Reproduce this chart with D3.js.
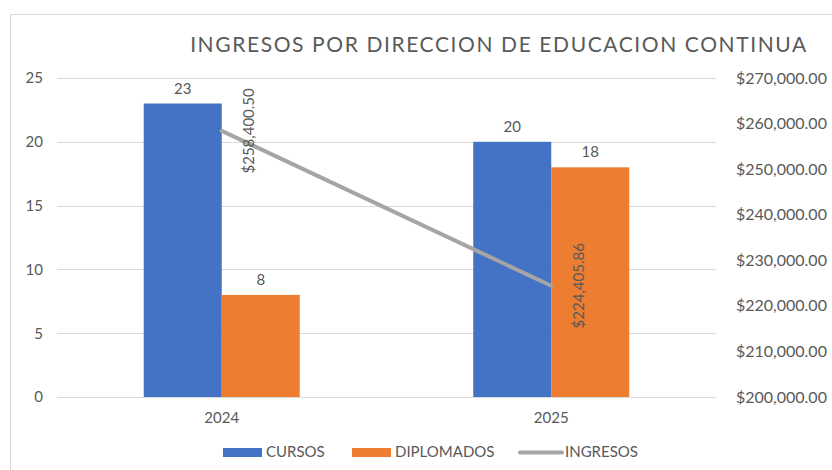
<!DOCTYPE html>
<html>
<head>
<meta charset="UTF-8">
<title>Ingresos por Direccion de Educacion Continua</title>
<script src="https://cdn.jsdelivr.net/npm/d3@7"></script>
<style>
  body { margin: 0; background: #ffffff; }
  text { font-family: Lato, "Open Sans", sans-serif; fill: #595959; }
</style>
</head>
<body>
<script>
// data
var years = ["2024", "2025"];
var cursos = [23, 20];
var diplomados = [8, 18];
var ingresos = [258400.50, 224405.86];
var leftTicks = [0, 5, 10, 15, 20, 25];
var rightTicks = [200000, 210000, 220000, 230000, 240000, 250000, 260000, 270000];

var W = 832, H = 470;
var m = {left: 57, right: 116, top: 78, bottom: 73};

var svg = d3.select("body").append("svg")
    .attr("width", W).attr("height", H);

// chart frame
svg.append("rect")
    .attr("x", 10.5).attr("y", 14.5)
    .attr("width", W + 20).attr("height", H + 20)
    .attr("fill", "none").attr("stroke", "#d9d9d9");

var x = d3.scaleBand().domain(years).range([m.left, W - m.right]).paddingInner(0).paddingOuter(0);
var yL = d3.scaleLinear().domain([0, 25]).range([H - m.bottom, m.top]);
var yR = d3.scaleLinear().domain([200000, 270000]).range([H - m.bottom, m.top]);

var barW = 78;

// gridlines
svg.append("g").selectAll("line").data(leftTicks).enter().append("line")
    .attr("x1", m.left).attr("x2", W - m.right)
    .attr("y1", function (d) { return Math.round(yL(d)) + 0.5; })
    .attr("y2", function (d) { return Math.round(yL(d)) + 0.5; })
    .attr("stroke", "#d9d9d9").attr("stroke-width", 1);

// left axis
var axL = svg.append("g").attr("transform", "translate(" + (m.left - 14) + ",0)")
    .call(d3.axisLeft(yL).tickValues(leftTicks).tickSize(0).tickPadding(0));
axL.select(".domain").remove();
axL.selectAll("text").style("font-size", "15px").attr("fill", "#595959");

// right axis
var fmt = d3.format("$,.2f");
var axR = svg.append("g").attr("transform", "translate(" + (W - m.right + 20) + ",0)")
    .call(d3.axisRight(yR).tickValues(rightTicks).tickSize(0).tickPadding(0).tickFormat(fmt));
axR.select(".domain").remove();
axR.selectAll("text").style("font-size", "16px").attr("fill", "#595959");

// x axis labels
svg.append("g").selectAll("text").data(years).enter().append("text")
    .attr("x", function (d) { return x(d) + x.bandwidth() / 2; })
    .attr("y", H - m.bottom + 26)
    .attr("text-anchor", "middle").style("font-size", "15px")
    .text(function (d) { return d; });

// bars
var series = [
    {name: "CURSOS", values: cursos, color: "#4472c4", off: -barW},
    {name: "DIPLOMADOS", values: diplomados, color: "#ed7d31", off: 0}
];
series.forEach(function (s) {
    var g = svg.append("g");
    g.selectAll("rect").data(s.values).enter().append("rect")
        .attr("x", function (d, i) { return x(years[i]) + x.bandwidth() / 2 + s.off; })
        .attr("y", function (d) { return yL(d); })
        .attr("width", barW)
        .attr("height", function (d) { return yL(0) - yL(d); })
        .attr("fill", s.color);
    g.selectAll("text").data(s.values).enter().append("text")
        .attr("x", function (d, i) { return x(years[i]) + x.bandwidth() / 2 + s.off + barW / 2; })
        .attr("y", function (d) { return yL(d) - 10; })
        .attr("text-anchor", "middle").style("font-size", "15px").attr("fill", "#404040")
        .text(function (d) { return d; });
});

// ingresos line
var cx = function (d, i) { return x(years[i]) + x.bandwidth() / 2; };
svg.append("path").datum(ingresos)
    .attr("d", d3.line().x(cx).y(function (d) { return yR(d); }))
    .attr("fill", "none").attr("stroke", "#a5a5a5").attr("stroke-width", 4)
    .attr("stroke-linecap", "round");

svg.append("g").selectAll("text").data(ingresos).enter().append("text")
    .attr("transform", function (d, i) {
        return "translate(" + (cx(d, i) + 27) + "," + yR(d) + ") rotate(-90)";
    })
    .attr("text-anchor", "middle").attr("dy", "0.35em")
    .style("font-size", "15px").attr("fill", "#404040")
    .text(function (d) { return fmt(d); });

// title
svg.append("text")
    .attr("x", 499).attr("y", 52)
    .attr("text-anchor", "middle").style("font-size", "21px")
    .style("letter-spacing", "1.6px").attr("fill", "#595959")
    .text("INGRESOS POR DIRECCION DE EDUCACION CONTINUA");

// legend
var legend = [
    {name: "CURSOS", color: "#4472c4", type: "rect", x: 223},
    {name: "DIPLOMADOS", color: "#ed7d31", type: "rect", x: 352},
    {name: "INGRESOS", color: "#a5a5a5", type: "line", x: 519}
];
var lg = svg.append("g").selectAll("g").data(legend).enter().append("g")
    .attr("transform", function (d) { return "translate(" + d.x + ",452)"; });
lg.filter(function (d) { return d.type === "rect"; }).append("rect")
    .attr("x", 0).attr("y", -4).attr("width", 39).attr("height", 9)
    .attr("fill", function (d) { return d.color; });
lg.filter(function (d) { return d.type === "line"; }).append("line")
    .attr("x1", 1).attr("x2", 43).attr("y1", 0.5).attr("y2", 0.5)
    .attr("stroke", function (d) { return d.color; }).attr("stroke-width", 4)
    .attr("stroke-linecap", "round");
lg.append("text")
    .attr("x", function (d) { return d.type === "line" ? 46 : 43; })
    .attr("y", 0).attr("dy", "0.35em")
    .style("font-size", "15px")
    .text(function (d) { return d.name; });
</script>
</body>
</html>
